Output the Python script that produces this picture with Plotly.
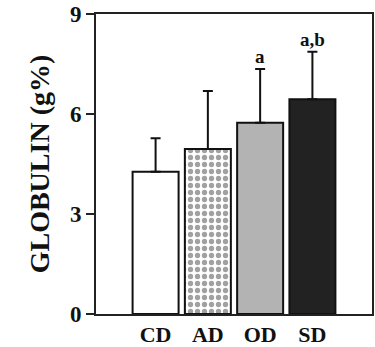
import plotly.graph_objects as go

categories = ["CD", "AD", "OD", "SD"]
means = [4.27, 4.95, 5.74, 6.44]
sd_upper = [1.00, 1.74, 1.61, 1.43]
letters = ["", "", "a", "a,b"]
fills = ["white", "white", "#b3b3b3", "#222222"]
patterns = ["", ".", "", ""]

font_family = "Liberation Serif, Times New Roman, serif"

fig = go.Figure()
fig.add_trace(go.Bar(
    x=categories,
    y=means,
    width=0.88,
    marker=dict(
        color=fills,
        line=dict(color="#111111", width=2),
        pattern=dict(shape=patterns, fgcolor="#111111", bgcolor="white",
                     size=7, solidity=0.45, fillmode="overlay"),
    ),
    error_y=dict(type="data", symmetric=False, array=sd_upper,
                 arrayminus=[0] * len(means), color="#111111",
                 thickness=2, width=5),
    showlegend=False,
))

for c, m, e, t in zip(categories, means, sd_upper, letters):
    if t:
        fig.add_annotation(x=c, y=m + e, text=t, showarrow=False,
                           yanchor="bottom", yshift=0,
                           font=dict(family=font_family, size=19,
                                     color="#111111", weight="bold"))

fig.update_layout(
    width=375, height=347,
    margin=dict(l=96, r=3, t=14, b=33),
    paper_bgcolor="white", plot_bgcolor="white",
    font=dict(family=font_family, color="#111111", weight="bold"),
    bargap=0.12,
)
fig.update_xaxes(
    range=[-1.14, 4.14], automargin=False,
    showline=True, linecolor="#222222", linewidth=2, mirror=True,
    ticks="", tickfont=dict(family=font_family, size=22, weight="bold"),
    showgrid=False,
)
fig.update_yaxes(
    range=[0, 9], tickvals=[0, 3, 6, 9], automargin=False,
    showline=True, linecolor="#222222", linewidth=2, mirror=True,
    ticks="outside", ticklen=8, tickwidth=2, tickcolor="#222222",
    tickfont=dict(family=font_family, size=23, weight="bold"),
    showgrid=False, zeroline=False,
    title=dict(text="GLOBULIN (g%)", standoff=12,
               font=dict(family=font_family, size=28, weight="bold")),
)

fig.write_html("out.html")
